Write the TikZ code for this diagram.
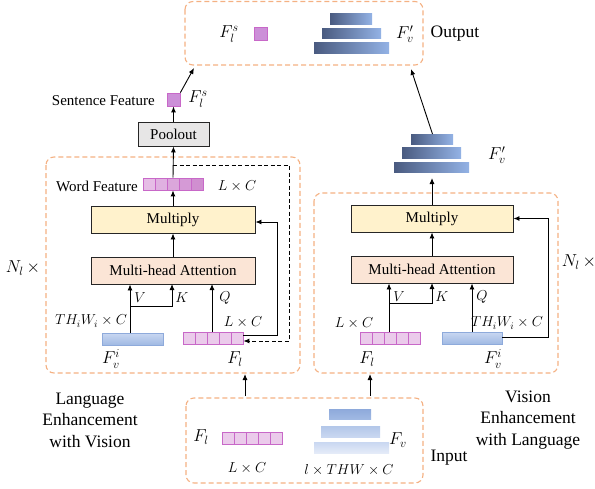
\documentclass[tikz,border=0pt]{standalone}
\usepackage{fontspec}
\setmainfont{Liberation Serif}
\usetikzlibrary{arrows.meta}
\definecolor{dorange}{HTML}{F4B183}
\definecolor{mulfill}{HTML}{FFF2CC}
\definecolor{mhafill}{HTML}{FBE5D6}
\definecolor{poolfill}{HTML}{E7E6E6}
\definecolor{pinkfill}{HTML}{EBCBEB}
\definecolor{pinkdraw}{HTML}{C868C8}
\definecolor{wfa}{HTML}{E6BDE6}
\definecolor{wfb}{HTML}{C77DC8}
\definecolor{sqfill}{HTML}{CC8FD8}
\definecolor{bluea}{HTML}{C9D7F1}
\definecolor{blueb}{HTML}{A0B9E3}
\definecolor{bluedraw}{HTML}{8EAADB}
\definecolor{darkl}{HTML}{4A5B80}
\definecolor{darkr}{HTML}{93B2E5}
\newcommand\myfa{\fontsize{15}{18}\selectfont}
\newcommand\myfb{\fontsize{17.5}{21.5}\selectfont}
\newcommand\myfm{\fontsize{17.28}{20}\selectfont}
\newcommand\myfd{\fontsize{14.4}{17}\selectfont}
\tikzset{
  grp/.style={draw=dorange, line width=1.1pt, dash pattern=on 5pt off 3pt, rounded corners=8pt},
  opbox/.style={draw=black!85, line width=0.9pt, minimum height=27pt, inner sep=0pt, font=\myfa},
  lbl/.style={inner sep=0pt, font=\myfa},
  flbl/.style={inner sep=0pt, font=\myfm},
  dlbl/.style={inner sep=0pt, font=\myfd},
  vlbl/.style={inner sep=0pt, font=\myfd},
  biglbl/.style={inner sep=0pt, font=\myfb, align=center},
  cellbox/.style={draw=pinkdraw, line width=0.8pt, fill=pinkfill, minimum width=12pt, minimum height=12pt, inner sep=0pt},
  sqbox/.style={draw=pinkdraw, line width=0.8pt, fill=sqfill, minimum width=13pt, minimum height=13pt, inner sep=0pt},
  bluebar/.style={draw=bluedraw, line width=0.8pt, top color=bluea, bottom color=blueb, minimum width=61pt, minimum height=12pt, inner sep=0pt},
  darkbar/.style={left color=darkl, right color=darkr, minimum height=10.5pt, inner sep=0pt},
  arr/.style={line width=0.9pt, -{Latex[length=6pt,width=5pt]}},
}
\begin{document}
\begin{tikzpicture}[x=1pt,y=-1pt]
\useasboundingbox (0,0) rectangle (595,488);

% ---------- group boxes ----------
\draw[grp] (185,1.5) rectangle (423,65);
\draw[grp] (46,157) rectangle (300,373);
\draw[grp] (314,193) rectangle (558,373);
\draw[grp] (186,398) rectangle (423,483);

% ---------- output box ----------
\node[flbl] (oFls) at (229,34) {$F_l^s$};
\node[sqbox] (osq) at (260.5,33.5) {};
\node[darkbar, minimum width=42pt] (oP1) at (351,19) {};
\node[darkbar, minimum width=59pt] (oP2) at (351.5,33.5) {};
\node[darkbar, minimum width=75pt] (oP3) at (351.5,48) {};
\node[flbl] (oFv) at (405,34) {$F_v'$};
\node[biglbl] (oOut) at (455,34) {Output};
\coordinate (oL) at (194,68);
\coordinate (oR) at (411,69);

% ---------- left column ----------
\node[sqbox] (lsq) at (173.5,99.5) {};
\node[lbl, anchor=east] (lsf) at (155,101) {Sentence Feature};
\node[flbl] (lFls) at (198,99) {$F_l^s$};
\node[opbox, fill=poolfill, minimum width=71pt, minimum height=24pt] (lpool) at (173.5,134) {Poolout};
\foreach \i [evaluate=\i as \p using 100-18*(\i-1)] in {1,...,5}
  \node[cellbox, fill=wfa!\p!wfb] (lwf\i) at (137+12*\i,184) {};
\node[lbl, anchor=east] (lwft) at (138,186) {Word Feature};
\node[dlbl] (lwfd) at (237,186) {$L\times C$};
\node[opbox, fill=mulfill, minimum width=164pt] (lmul) at (173,219.5) {Multiply};
\node[opbox, fill=mhafill, minimum width=164pt] (lmha) at (173,270.5) {Multi-head Attention};
\node[bluebar] (lFvi) at (132.5,339) {};
\node[flbl] (lFvil) at (111,359) {$F_v^i$};
\node[dlbl] (lFvid) at (91,321) {$TH_iW_i\times C$};
\foreach \i in {1,...,5}
  \node[cellbox] (lFl\i) at (177+12*\i,338) {};
\node[flbl] (lFll) at (235,359) {$F_l$};
\node[dlbl] (lFld) at (243,322) {$L\times C$};
\node[flbl] (lNl) at (23,268) {$N_l\,\times$};
\node[biglbl] (lname) at (90,420) {Language\\Enhancement\\with Vision};

% left connectors
\draw[arr] (lpool.north) -- (lsq.south);
\draw[arr] (lsq.north east) -- (oL);
\draw[arr] (lwf3.north) -- (lpool.south);
\draw[arr] (lmul.north) -- (lwf3.south);
\draw[arr] (lmha.north) -- (lmul.south);
\coordinate (lVb) at (130,333);
\coordinate (lVk) at (130,306);
\draw[arr] (lVb) -- (lVb |- lmha.south);
\draw[arr] (lVk) -| (172,284);
\draw[arr] (lFl3.north -| 212,0) -- (212,284);
\node[vlbl] (lV) at (140,298) {$V$};
\node[vlbl] (lK) at (182,298) {$K$};
\node[vlbl] (lQ) at (225,298) {$Q$};
\draw[arr] ([yshift=3pt]lFl5.east) -- ++(34,0) |- ([yshift=-2.5pt]lmul.east);
\draw[arr, line width=0.9pt, dash pattern=on 4pt off 2.5pt] (173,165) -| (289,341) -- ([yshift=-3pt]lFl5.east);

% ---------- right column ----------
\node[darkbar, minimum width=42pt] (rP1) at (432,139.5) {};
\node[darkbar, minimum width=59pt] (rP2) at (431.5,153) {};
\node[darkbar, minimum width=75pt] (rP3) at (431.5,167.5) {};
\node[flbl] (rFv) at (497,155) {$F_v'$};
\node[opbox, fill=mulfill, minimum width=162pt] (rmul) at (432,218.5) {Multiply};
\node[opbox, fill=mhafill, minimum width=162pt] (rmha) at (432,269.5) {Multi-head Attention};
\foreach \i in {1,...,5}
  \node[cellbox] (rFl\i) at (354+12*\i,338) {};
\node[flbl] (rFll) at (367,359) {$F_l$};
\node[dlbl] (rFld) at (354,323) {$L\times C$};
\node[bluebar, minimum width=60pt] (rFvi) at (472,338) {};
\node[flbl] (rFvil) at (493,359) {$F_v^i$};
\node[dlbl] (rFvid) at (507,323) {$TH_iW_i\times C$};
\node[flbl] (rNl) at (579,262) {$N_l\,\times$};
\node[biglbl] (rname) at (528,420) {Vision\\Enhancement\\with Language};

% right connectors
\draw[arr] ([xshift=0.5pt]rP1.north) -- (oR);
\draw[arr] (rmul.north) -- (432,178);
\draw[arr] (rmha.north) -- (rmul.south);
\coordinate (rVb) at (389,332);
\coordinate (rVk) at (389,303);
\draw[arr] (rVb) -- (rVb |- rmha.south);
\draw[arr] (rVk) -| (432,283);
\draw[arr] (rFvi.north) -- (rFvi.north |- rmha.south);
\node[vlbl] (rV) at (399,297) {$V$};
\node[vlbl] (rK) at (442,297) {$K$};
\node[vlbl] (rQ) at (482,297) {$Q$};
\draw[arr] ([yshift=1pt]rFvi.east) -- ++(46,0) |- (rmul.east);

% ---------- input box ----------
\node[flbl] (iFl) at (201,437) {$F_l$};
\foreach \i in {1,...,5}
  \node[cellbox] (iFl\i) at (216+12*\i,438.5) {};
\node[dlbl] (iFld) at (247,468) {$L\times C$};
\node[top color=bluedraw, bottom color=blueb, minimum width=42pt, minimum height=10pt, inner sep=0pt] (iP1) at (350,414) {};
\node[top color=blueb!80!white, bottom color=bluea, minimum width=59pt, minimum height=11pt, inner sep=0pt] (iP2) at (350.5,431.5) {};
\node[top color=bluea, bottom color=bluea!50!white, minimum width=75pt, minimum height=11pt, inner sep=0pt] (iP3) at (351.5,447.5) {};
\node[flbl] (iFv) at (398,440) {$F_v$};
\node[dlbl] (iFvd) at (349,470) {$l\times THW\times C$};
\node[biglbl] (iIn) at (449,458) {Input};
\draw[arr] (245,396) -- (245,374);
\draw[arr] (370,396) -- (370,374);
\end{tikzpicture}
\end{document}
